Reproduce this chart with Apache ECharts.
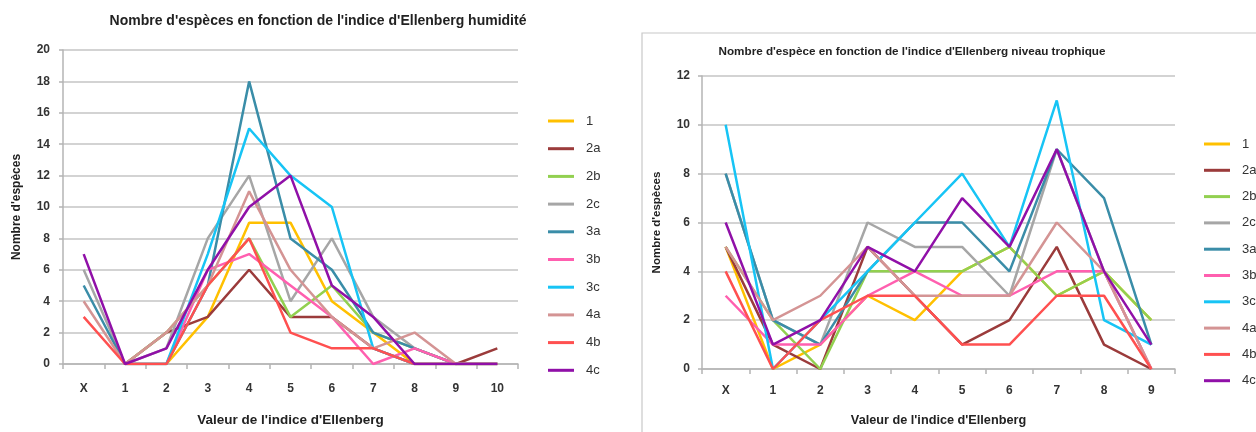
<!DOCTYPE html>
<html>
<head>
<meta charset="utf-8">
<script src="https://cdn.jsdelivr.net/npm/echarts@6/dist/echarts.min.js"></script>
<style>
  html, body { margin: 0; background: #fff; }
  #chart { width: 1256px; height: 432px; }
</style>
</head>
<body>
<div id="chart"></div>
<script>
var names = ["1", "2a", "2b", "2c", "3a", "3b", "3c", "4a", "4b", "4c"];
var colors = ["#FFC000", "#9B3B3B", "#92D050", "#A6A6A6", "#3A8DA8",
              "#FF5FAF", "#17C4F5", "#D49494", "#FF5050", "#9010A8"];

// humidité
var humCats = ["X", "1", "2", "3", "4", "5", "6", "7", "8", "9", "10"];
var hum1  = [null, 0, 0, 3, 9, 9, 4, 2, 0, 0, 0];
var hum2a = [null, 0, 2, 3, 6, 3, 3, 1, 0, 0, 1];
var hum2b = [null, 0, 2, 5, 8, 3, 5, 2, 1, 0, 0];
var hum2c = [6, 0, 1, 8, 12, 4, 8, 3, 1, 0, 0];
var hum3a = [5, 0, 0, 5, 18, 8, 6, 2, 1, 0, 0];
var hum3b = [null, 0, 0, 6, 7, 5, 3, 0, 1, 0, 0];
var hum3c = [null, 0, 0, 7, 15, 12, 10, 1, 0, 0, 0];
var hum4a = [4, 0, 2, 5, 11, 6, 3, 1, 2, 0, 0];
var hum4b = [3, 0, 0, 5, 8, 2, 1, 1, 0, 0, 0];
var hum4c = [7, 0, 1, 6, 10, 12, 5, 3, 0, 0, 0];

// niveau trophique
var tropCats = ["X", "1", "2", "3", "4", "5", "6", "7", "8", "9"];
var trop1  = [5, 0, 1, 3, 2, 4, 5, 3, 4, 2];
var trop2a = [5, 1, 0, 5, 3, 1, 2, 5, 1, 0];
var trop2b = [5, 2, 0, 4, 4, 4, 5, 3, 4, 2];
var trop2c = [8, 2, 1, 6, 5, 5, 3, 9, 4, 0];
var trop3a = [8, 2, 1, 4, 6, 6, 4, 9, 7, 1];
var trop3b = [3, 1, 1, 3, 4, 3, 3, 4, 4, 0];
var trop3c = [10, 0, 2, 4, 6, 8, 5, 11, 2, 1];
var trop4a = [5, 2, 3, 5, 3, 3, 3, 6, 4, 0];
var trop4b = [4, 0, 2, 3, 3, 1, 1, 3, 3, 0];
var trop4c = [6, 1, 2, 5, 4, 7, 5, 9, 4, 1];

var humData = [hum1, hum2a, hum2b, hum2c, hum3a, hum3b, hum3c, hum4a, hum4b, hum4c];
var tropData = [trop1, trop2a, trop2b, trop2c, trop3a, trop3b, trop3c, trop4a, trop4b, trop4c];

var font = "Liberation Sans, Arial, sans-serif";
var gridGray = "#c4c4c4";

function xAx(idx, cats) {
  return {
    type: "category",
    gridIndex: idx,
    data: cats,
    boundaryGap: true,
    name: "Valeur de l'indice d'Ellenberg",
    nameLocation: "middle",
    nameGap: idx === 0 ? 49 : 45,
    nameTextStyle: { fontFamily: font, fontWeight: "bold", fontSize: idx === 0 ? 13.5 : 12.7, color: "#222" },
    axisLine: { lineStyle: { color: "#b4b4b4", width: 1.5 } },
    axisTick: { show: true, length: 5, lineStyle: { color: "#b4b4b4", width: 1.5 } },
    axisLabel: { fontFamily: font, fontWeight: "bold", fontSize: 12, color: "#333", margin: idx === 0 ? 19 : 16 }
  };
}

function yAx(idx, max) {
  return {
    type: "value",
    gridIndex: idx,
    min: 0,
    max: max,
    interval: 2,
    name: "Nombre d'espèces",
    nameLocation: "middle",
    nameGap: idx === 0 ? 40 : 39,
    nameTextStyle: { fontFamily: font, fontWeight: "bold", fontSize: idx === 0 ? 12 : 11.5, color: "#222" },
    axisLine: { show: true, lineStyle: { color: "#b4b4b4", width: 1.5 } },
    axisTick: { show: true, length: 4, lineStyle: { color: "#b4b4b4", width: 1.5 } },
    axisLabel: { fontFamily: font, fontWeight: "bold", fontSize: 12, color: "#333", margin: idx === 0 ? 13 : 12 },
    splitLine: { lineStyle: { color: gridGray, width: 1.5 } }
  };
}

function legendAt(left, top, gap) {
  return {
    orient: "vertical",
    left: left,
    top: top,
    data: names,
    icon: "rect",
    itemWidth: 26,
    itemHeight: 3,
    itemGap: gap,
    textStyle: { fontFamily: font, fontSize: 13, color: "#333", lineHeight: 14, padding: [0, 0, 0, 7] }
  };
}

var series = [];
names.forEach(function (n, i) {
  series.push({
    name: n, type: "line", xAxisIndex: 0, yAxisIndex: 0,
    data: humData[i], symbol: "none",
    lineStyle: { width: 2.5, color: colors[i] }, itemStyle: { color: colors[i] }
  });
});
names.forEach(function (n, i) {
  series.push({
    name: n, type: "line", xAxisIndex: 1, yAxisIndex: 1,
    data: tropData[i], symbol: "none",
    lineStyle: { width: 2.5, color: colors[i] }, itemStyle: { color: colors[i] }
  });
});

var chart = echarts.init(document.getElementById("chart"));
chart.setOption({
  animation: false,
  backgroundColor: "#fff",
  title: [
    {
      text: "Nombre d'espèces en fonction de l'indice d'Ellenberg humidité",
      left: 313, top: 9, textAlign: "center",
      textStyle: { fontFamily: font, fontWeight: "bold", fontSize: 14, color: "#222" }
    },
    {
      text: "Nombre d'espèce en fonction de l'indice d'Ellenberg niveau trophique",
      left: 907, top: 41, textAlign: "center",
      textStyle: { fontFamily: font, fontWeight: "bold", fontSize: 11.7, color: "#222" }
    }
  ],
  graphic: [{
    type: "rect",
    shape: { x: 642, y: 33, width: 700, height: 500 },
    style: { fill: "none", stroke: "#c8c8c8", lineWidth: 1.2 },
    silent: true, z: -1
  }],
  legend: [legendAt(543, 109, 13.7), legendAt(1199, 132, 12.3)],
  grid: [
    { left: 63, top: 50, width: 455, height: 317 },
    { left: 702, top: 76, width: 473, height: 299 }
  ],
  xAxis: [xAx(0, humCats), xAx(1, tropCats)],
  yAxis: [yAx(0, 20), yAx(1, 12)],
  series: series
});
</script>
</body>
</html>
